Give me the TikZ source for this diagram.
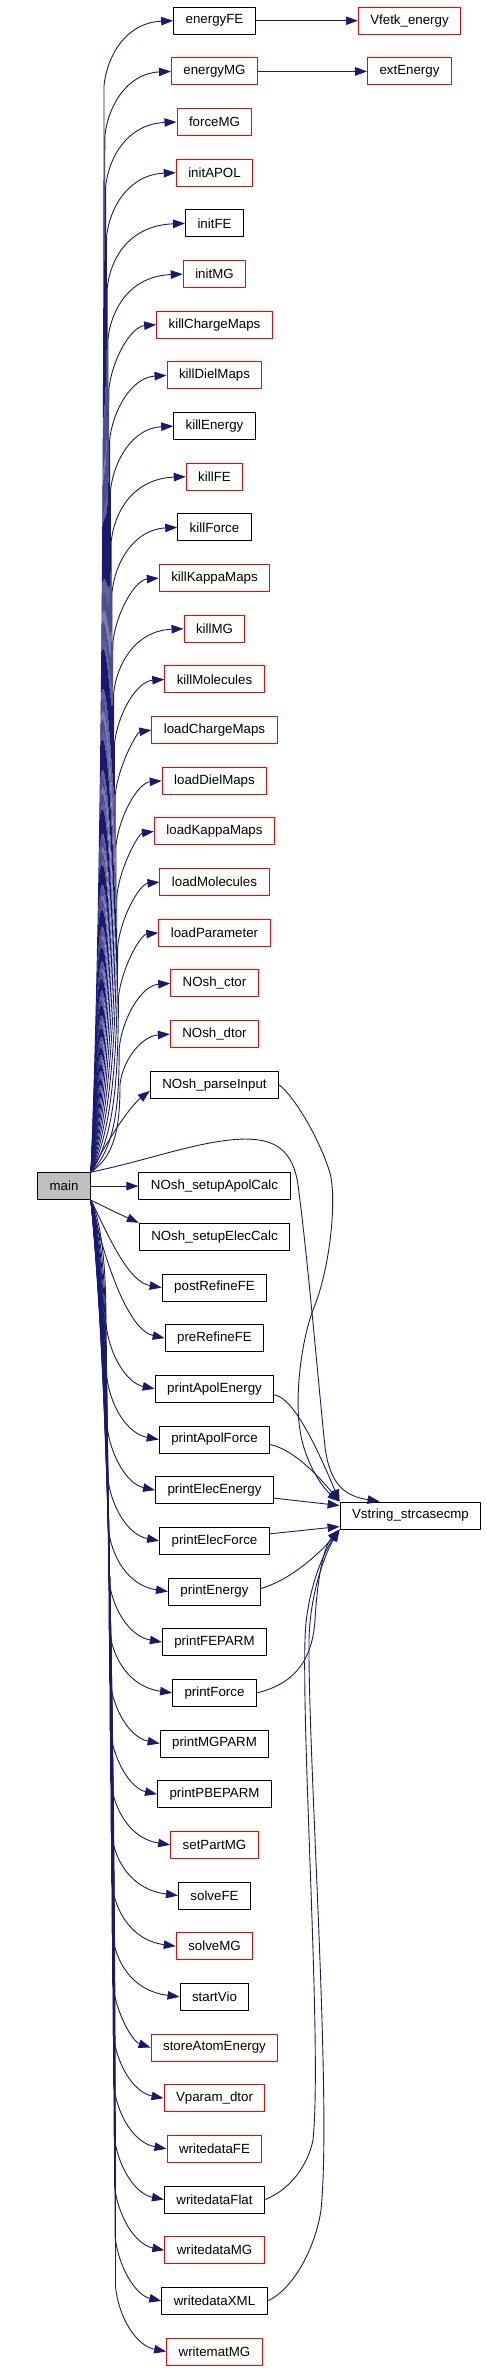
\documentclass[tikz,border=0pt]{standalone}
\usepackage{fontspec}
\setmainfont{Liberation Sans}
\usepackage{xcolor}
\usepackage{tikz}
\usetikzlibrary{arrows.meta}

\definecolor{edgeblue}{HTML}{191970}
\definecolor{boxred}{HTML}{FF0000}
\definecolor{rootgray}{HTML}{BFBFBF}

\begin{document}
\begin{tikzpicture}[x=1pt,y=-1pt,line join=round,
    fn/.style={draw=black,line width=1pt,fill=white,minimum height=27pt,inner xsep=12pt,inner ysep=2pt,font=\fontsize{13.3}{15}\selectfont},
    fnred/.style={fn,draw=boxred},
    root/.style={fn,fill=rootgray},
    call/.style={draw=edgeblue,line width=0.9pt,-{Triangle[length=12pt,width=8.5pt]}}]
  \useasboundingbox (0,0) rectangle (487,2372);
  % root and shared callee
  \node[root] (main) at (64,1186.1) {main};
  \node[fn] (Vstring) at (410.5,1515.5) {Vstring\_strcasecmp};
  \node[fnred] (Vfetk) at (409.5,20.7) {Vfetk\_energy};
  \node[fnred] (extEnergy) at (409.5,71.4) {extEnergy};
  % callees of main
  \node[fn] (energyFE) at (214.5,20.7) {energyFE};
  \node[fnred] (energyMG) at (214.5,71.4) {energyMG};
  \node[fnred] (forceMG) at (214.5,122.0) {forceMG};
  \node[fnred] (initAPOL) at (214.5,172.7) {initAPOL};
  \node[fn] (initFE) at (214.5,223.4) {initFE};
  \node[fnred] (initMG) at (214.5,274.1) {initMG};
  \node[fnred] (killChargeMaps) at (214.5,324.7) {killChargeMaps};
  \node[fnred] (killDielMaps) at (214.5,375.4) {killDielMaps};
  \node[fn] (killEnergy) at (214.5,426.1) {killEnergy};
  \node[fnred] (killFE) at (214.5,476.7) {killFE};
  \node[fn] (killForce) at (214.5,527.4) {killForce};
  \node[fnred] (killKappaMaps) at (214.5,578.1) {killKappaMaps};
  \node[fnred] (killMG) at (214.5,628.7) {killMG};
  \node[fnred] (killMolecules) at (214.5,679.4) {killMolecules};
  \node[fnred] (loadChargeMaps) at (214.5,730.1) {loadChargeMaps};
  \node[fnred] (loadDielMaps) at (214.5,780.8) {loadDielMaps};
  \node[fnred] (loadKappaMaps) at (214.5,831.4) {loadKappaMaps};
  \node[fnred] (loadMolecules) at (214.5,882.1) {loadMolecules};
  \node[fnred] (loadParameter) at (214.5,932.8) {loadParameter};
  \node[fnred] (NOshCtor) at (214.5,983.4) {NOsh\_ctor};
  \node[fnred] (NOshDtor) at (214.5,1034.1) {NOsh\_dtor};
  \node[fn] (NOshParse) at (214.5,1084.8) {NOsh\_parseInput};
  \node[fn] (NOshApol) at (214.5,1186.1) {NOsh\_setupApolCalc};
  \node[fn] (NOshElec) at (214.5,1236.8) {NOsh\_setupElecCalc};
  \node[fn] (postRefineFE) at (214.5,1287.5) {postRefineFE};
  \node[fn] (preRefineFE) at (214.5,1338.1) {preRefineFE};
  \node[fn] (printApolEnergy) at (214.5,1388.8) {printApolEnergy};
  \node[fn] (printApolForce) at (214.5,1439.5) {printApolForce};
  \node[fn] (printElecEnergy) at (214.5,1490.1) {printElecEnergy};
  \node[fn] (printElecForce) at (214.5,1540.8) {printElecForce};
  \node[fn] (printEnergy) at (214.5,1591.5) {printEnergy};
  \node[fn] (printFEPARM) at (214.5,1642.1) {printFEPARM};
  \node[fn] (printForce) at (214.5,1692.8) {printForce};
  \node[fn] (printMGPARM) at (214.5,1743.5) {printMGPARM};
  \node[fn] (printPBEPARM) at (214.5,1794.2) {printPBEPARM};
  \node[fnred] (setPartMG) at (214.5,1844.8) {setPartMG};
  \node[fn] (solveFE) at (214.5,1895.5) {solveFE};
  \node[fnred] (solveMG) at (214.5,1946.2) {solveMG};
  \node[fn] (startVio) at (214.5,1996.8) {startVio};
  \node[fnred] (storeAtomEnergy) at (214.5,2047.5) {storeAtomEnergy};
  \node[fnred] (VparamDtor) at (214.5,2098.2) {Vparam\_dtor};
  \node[fnred] (writedataFE) at (214.5,2148.8) {writedataFE};
  \node[fn] (writedataFlat) at (214.5,2199.5) {writedataFlat};
  \node[fnred] (writedataMG) at (214.5,2250.2) {writedataMG};
  \node[fn] (writedataXML) at (214.5,2300.9) {writedataXML};
  \node[fnred] (writematMG) at (214.5,2351.5) {writematMG};
  % second level
  \draw[call] (energyFE) -- (Vfetk);
  \draw[call] (energyMG) -- (extEnergy);
  % main, upward calls
  \draw[call] (main.north east) .. controls (100,955.5) and (104,575.0) .. (104,85.7) .. controls (107,55.7) and (126,22.7) .. (energyFE.west);
  \draw[call] (main.north east) .. controls (100.8,965.7) and (104.8,602.9) .. (104.8,136.4) .. controls (107.8,106.4) and (126.8,73.4) .. (energyMG.west);
  \draw[call] (main.north east) .. controls (101.6,975.8) and (105.6,630.7) .. (105.6,187.0) .. controls (108.6,157.0) and (127.6,124.0) .. (forceMG.west);
  \draw[call] (main.north east) .. controls (102.4,985.9) and (106.4,658.6) .. (106.4,237.7) .. controls (109.4,207.7) and (128.4,174.7) .. (initAPOL.west);
  \draw[call] (main.north east) .. controls (103.2,996.1) and (107.2,686.5) .. (107.2,288.4) .. controls (110.2,258.4) and (129.2,225.4) .. (initFE.west);
  \draw[call] (main.north east) .. controls (104,1006.2) and (108,714.4) .. (108,339.1) .. controls (111,309.1) and (130,276.1) .. (initMG.west);
  \draw[call] (main.north east) .. controls (104.8,1016.3) and (108.8,742.2) .. (108.8,389.7) .. controls (111.8,359.7) and (130.8,326.7) .. (killChargeMaps.west);
  \draw[call] (main.north east) .. controls (105.6,1026.5) and (109.6,770.1) .. (109.6,440.4) .. controls (112.6,410.4) and (131.6,377.4) .. (killDielMaps.west);
  \draw[call] (main.north east) .. controls (106.4,1036.6) and (110.4,798.0) .. (110.4,491.1) .. controls (113.4,461.1) and (132.4,428.1) .. (killEnergy.west);
  \draw[call] (main.north east) .. controls (107.2,1046.7) and (111.2,825.8) .. (111.2,541.7) .. controls (114.2,511.7) and (133.2,478.7) .. (killFE.west);
  \draw[call] (main.north east) .. controls (108,1056.9) and (112,853.7) .. (112,592.4) .. controls (115,562.4) and (134,529.4) .. (killForce.west);
  \draw[call] (main.north east) .. controls (108.8,1067.0) and (112.8,881.6) .. (112.8,643.1) .. controls (115.8,613.1) and (134.8,580.1) .. (killKappaMaps.west);
  \draw[call] (main.north east) .. controls (109.6,1077.1) and (113.6,909.4) .. (113.6,693.7) .. controls (116.6,663.7) and (135.6,630.7) .. (killMG.west);
  \draw[call] (main.north east) .. controls (110.4,1087.3) and (114.4,937.3) .. (114.4,744.4) .. controls (117.4,714.4) and (136.4,681.4) .. (killMolecules.west);
  \draw[call] (main.north east) .. controls (111.2,1097.4) and (115.2,965.2) .. (115.2,795.1) .. controls (118.2,765.1) and (137.2,732.1) .. (loadChargeMaps.west);
  \draw[call] (main.north east) .. controls (112,1107.6) and (116,993.0) .. (116,845.8) .. controls (119,815.8) and (138,782.8) .. (loadDielMaps.west);
  \draw[call] (main.north east) .. controls (112.8,1117.7) and (116.8,1020.9) .. (116.8,896.4) .. controls (119.8,866.4) and (138.8,833.4) .. (loadKappaMaps.west);
  \draw[call] (main.north east) .. controls (113.6,1127.8) and (117.6,1048.8) .. (117.6,947.1) .. controls (120.6,917.1) and (139.6,884.1) .. (loadMolecules.west);
  \draw[call] (main.north east) .. controls (114.4,1138.0) and (118.4,1076.6) .. (118.4,997.8) .. controls (121.4,967.8) and (140.4,934.8) .. (loadParameter.west);
  \draw[call] (main.north east) .. controls (115.2,1148.1) and (119.2,1104.5) .. (119.2,1048.4) .. controls (122.2,1018.4) and (141.2,985.4) .. (NOshCtor.west);
  \draw[call] (main.north east) .. controls (116,1155.2) and (120,1124.1) .. (120,1084.1) .. controls (123,1059.1) and (142,1036.1) .. (NOshDtor.west);
  \draw[call] (main.north east) .. controls (105,1145) and (128,1108) .. ([yshift=-6pt]NOshParse.west);
  % main, level and downward calls
  \draw[call] (main) -- (NOshApol);
  \draw[call] (main.south east) .. controls (115,1212) .. (NOshElec.north west);
  \draw[call] (main.south east) .. controls (108,1235) and (128,1282) .. (postRefineFE.west);
  \draw[call] (main.south east) .. controls (104,1260) and (128,1330) .. (preRefineFE.west);
  \draw[call] (main.south east) .. controls (102,1224.0) and (106,1267.6) .. (106,1323.8) .. controls (109,1353.8) and (126,1382.8) .. (printApolEnergy.west);
  \draw[call] (main.south east) .. controls (102.5,1234.1) and (106.5,1295.5) .. (106.5,1374.5) .. controls (109.5,1404.5) and (126.5,1433.5) .. (printApolForce.west);
  \draw[call] (main.south east) .. controls (103,1244.2) and (107,1323.4) .. (107,1425.1) .. controls (110,1455.1) and (127,1484.1) .. (printElecEnergy.west);
  \draw[call] (main.south east) .. controls (103.5,1254.4) and (107.5,1351.2) .. (107.5,1475.8) .. controls (110.5,1505.8) and (127.5,1534.8) .. (printElecForce.west);
  \draw[call] (main.south east) .. controls (104,1264.5) and (108,1379.1) .. (108,1526.5) .. controls (111,1556.5) and (128,1585.5) .. (printEnergy.west);
  \draw[call] (main.south east) .. controls (104.5,1274.6) and (108.5,1407.0) .. (108.5,1577.1) .. controls (111.5,1607.1) and (128.5,1636.1) .. (printFEPARM.west);
  \draw[call] (main.south east) .. controls (105,1284.8) and (109,1434.8) .. (109,1627.8) .. controls (112,1657.8) and (129,1686.8) .. (printForce.west);
  \draw[call] (main.south east) .. controls (105.5,1294.9) and (109.5,1462.7) .. (109.5,1678.5) .. controls (112.5,1708.5) and (129.5,1737.5) .. (printMGPARM.west);
  \draw[call] (main.south east) .. controls (106,1305.0) and (110,1490.6) .. (110,1729.2) .. controls (113,1759.2) and (130,1788.2) .. (printPBEPARM.west);
  \draw[call] (main.south east) .. controls (106.5,1315.2) and (110.5,1518.4) .. (110.5,1779.8) .. controls (113.5,1809.8) and (130.5,1838.8) .. (setPartMG.west);
  \draw[call] (main.south east) .. controls (107,1325.3) and (111,1546.3) .. (111,1830.5) .. controls (114,1860.5) and (131,1889.5) .. (solveFE.west);
  \draw[call] (main.south east) .. controls (107.5,1335.4) and (111.5,1574.2) .. (111.5,1881.2) .. controls (114.5,1911.2) and (131.5,1940.2) .. (solveMG.west);
  \draw[call] (main.south east) .. controls (108,1345.6) and (112,1602.0) .. (112,1931.8) .. controls (115,1961.8) and (132,1990.8) .. (startVio.west);
  \draw[call] (main.south east) .. controls (108.5,1355.7) and (112.5,1629.9) .. (112.5,1982.5) .. controls (115.5,2012.5) and (132.5,2041.5) .. (storeAtomEnergy.west);
  \draw[call] (main.south east) .. controls (109,1365.8) and (113,1657.8) .. (113,2033.2) .. controls (116,2063.2) and (133,2092.2) .. (VparamDtor.west);
  \draw[call] (main.south east) .. controls (109.5,1376.0) and (113.5,1685.6) .. (113.5,2083.8) .. controls (116.5,2113.8) and (133.5,2142.8) .. (writedataFE.west);
  \draw[call] (main.south east) .. controls (110,1386.1) and (114,1713.5) .. (114,2134.5) .. controls (117,2164.5) and (134,2193.5) .. (writedataFlat.west);
  \draw[call] (main.south east) .. controls (110.5,1396.2) and (114.5,1741.4) .. (114.5,2185.2) .. controls (117.5,2215.2) and (134.5,2244.2) .. (writedataMG.west);
  \draw[call] (main.south east) .. controls (111,1406.4) and (115,1769.3) .. (115,2235.9) .. controls (118,2265.9) and (135,2294.9) .. (writedataXML.west);
  \draw[call] (main.south east) .. controls (111.5,1416.5) and (115.5,1797.1) .. (115.5,2286.5) .. controls (118.5,2316.5) and (135.5,2345.5) .. (writematMG.west);
  % calls into Vstring_strcasecmp
  \draw[call] (main.north east) .. controls (150,1160) and (200,1140) .. (245,1139) .. controls (275,1139) and (293,1150) .. (298,1185) .. controls (308,1260) and (318,1380) .. (325,1447) .. controls (330,1485) and (345,1496) .. ([xshift=40pt]Vstring.north west);
  \draw[call] (NOshParse.east) .. controls (295,1097) and (320,1140) .. (330,1173) .. controls (337,1200) and (330,1270) .. (313,1310) .. controls (300,1345) and (295,1400) .. (300,1430) .. controls (305,1465) and (325,1490) .. (Vstring.north west);
  \draw[call] ([yshift=-6pt]printApolEnergy.east) .. controls (295,1398) and (320,1455) .. (Vstring.north west);
  \draw[call] ([yshift=-5pt]printApolForce.east) .. controls (295,1450) and (320,1478) .. (Vstring.north west);
  \draw[call] ([yshift=-8pt]printElecEnergy.east) -- ([yshift=10pt]Vstring.west);
  \draw[call] ([yshift=7pt]printElecForce.east) -- ([yshift=-11pt]Vstring.west);
  \draw[call] ([yshift=3pt]printEnergy.east) .. controls (290,1580) and (318,1555) .. (Vstring.south west);
  \draw[call] (printForce.east) .. controls (290,1685) and (312,1665) .. (315,1620) .. controls (318,1570) and (325,1545) .. (Vstring.south west);
  \draw[call] (writedataFlat.east) .. controls (290,2190) and (308,2165) .. (313,2140) .. controls (322,2050) and (302,1750) .. (305,1640) .. controls (306,1590) and (325,1550) .. (Vstring.south west);
  \draw[call] (writedataXML.east) .. controls (292,2290) and (315,2250) .. (321,2210) .. controls (332,2100) and (308,1760) .. (309,1640) .. controls (310,1590) and (327,1550) .. (Vstring.south west);
\end{tikzpicture}
\end{document}
